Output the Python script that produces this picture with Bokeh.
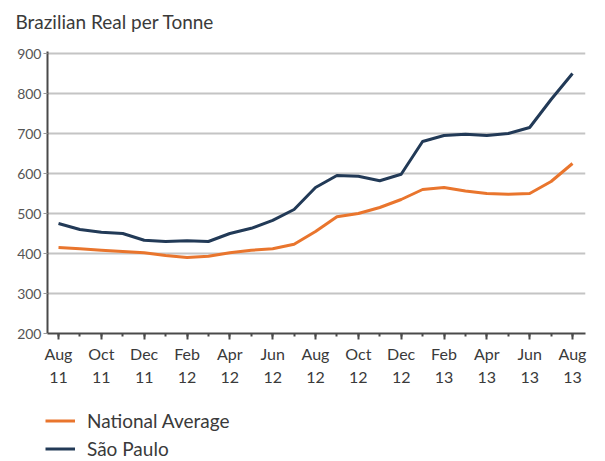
from bokeh.plotting import figure
from bokeh.layouts import column
from bokeh.models import (FixedTicker, LinearAxis, Range1d, Label, Legend, LegendItem)
from bokeh.embed import file_html
from bokeh.resources import INLINE

months = ["Aug 11", "Sep 11", "Oct 11", "Nov 11", "Dec 11", "Jan 12", "Feb 12", "Mar 12",
          "Apr 12", "May 12", "Jun 12", "Jul 12", "Aug 12", "Sep 12", "Oct 12", "Nov 12",
          "Dec 12", "Jan 13", "Feb 13", "Mar 13", "Apr 13", "May 13", "Jun 13", "Jul 13", "Aug 13"]
national_average = [415, 412, 408, 405, 402, 395, 390, 393, 402, 408, 412, 423, 455,
                    492, 500, 515, 535, 560, 565, 556, 550, 548, 550, 580, 625]
sao_paulo = [475, 460, 453, 450, 433, 430, 432, 430, 450, 463, 483, 510, 565,
             595, 593, 582, 598, 680, 695, 698, 695, 700, 715, 785, 850]
y_ticks = [200, 300, 400, 500, 600, 700, 800, 900]
series_names = ["National Average", "São Paulo"]
title_text = "Brazilian Real per Tonne"

FONT = "Lato"
ORANGE = "#E9752D"
NAVY = "#223A57"
TXT = "#3a3a3a"
W = 590

x = list(range(len(months)))


def bare(height):
    f = figure(width=W, height=height, output_backend="svg", toolbar_location=None,
               x_range=Range1d(0, 1), y_range=Range1d(0, 1), frame_align=False,
               min_border=0, x_axis_location=None, y_axis_location=None)
    f.outline_line_color = None
    f.grid.visible = False
    return f


# --- title strip ---
pt = bare(36)
pt.add_layout(Label(x=7, y=23, x_units="screen", y_units="screen", text=title_text,
                    text_font=FONT, text_font_size="19px", text_color=TXT,
                    text_baseline="alphabetic"))

# --- main chart ---
p = figure(width=W, height=354, output_backend="svg", toolbar_location=None,
           x_range=Range1d(-0.514, 24.607), y_range=Range1d(200, 905), frame_align=False,
           min_border_left=39, min_border_right=13, min_border_top=7, min_border_bottom=65,
           x_axis_location=None)
p.outline_line_color = None
p.xgrid.visible = False
p.ygrid.grid_line_color = "#c4c4c4"
p.ygrid.grid_line_width = 2
p.ygrid.ticker = FixedTicker(ticks=y_ticks)

yax = p.yaxis[0]
yax.ticker = FixedTicker(ticks=y_ticks)
yax.axis_line_color = "#4a4a4a"
yax.axis_line_width = 2
yax.major_tick_line_color = "#9a9a9a"
yax.major_tick_out = 4
yax.major_tick_in = 0
yax.minor_tick_line_color = None
yax.major_label_standoff = 2
yax.major_label_text_font = FONT
yax.major_label_text_font_size = "14px"
yax.major_label_text_color = "#555555"

major = [i for i in x if i % 2 == 0]
month_labels = {i: months[i].split()[0] for i in major}
year_labels = {i: months[i].split()[1] for i in major}

ax1 = LinearAxis(ticker=FixedTicker(ticks=major, minor_ticks=x))
ax1.major_label_overrides = month_labels
ax1.axis_line_color = "#4a4a4a"
ax1.axis_line_width = 2
ax1.major_tick_line_color = "#4a4a4a"
ax1.major_tick_line_width = 2
ax1.major_tick_out = 6
ax1.major_tick_in = 0
ax1.minor_tick_line_color = "#4a4a4a"
ax1.minor_tick_line_width = 2
ax1.minor_tick_out = 3
ax1.minor_tick_in = 0
ax1.major_label_standoff = 4
ax1.major_label_text_font = FONT
ax1.major_label_text_font_size = "16px"
ax1.major_label_text_color = TXT
p.add_layout(ax1, "below")

ax2 = LinearAxis(ticker=FixedTicker(ticks=major, minor_ticks=[]))
ax2.major_label_overrides = year_labels
ax2.axis_line_color = None
ax2.major_tick_line_color = None
ax2.minor_tick_line_color = None
ax2.major_tick_out = 0
ax2.major_label_standoff = 6
ax2.major_label_text_font = FONT
ax2.major_label_text_font_size = "16px"
ax2.major_label_text_color = TXT
p.add_layout(ax2, "below")

p.line(x, national_average, line_color=ORANGE, line_width=3, line_join="round")
p.line(x, sao_paulo, line_color=NAVY, line_width=3, line_join="round")

# --- legend strip (series drawn off-range; only the legend swatches show) ---
pl = bare(62)
g_nat = pl.line(x, national_average, line_color=ORANGE, line_width=3)
g_sp = pl.line(x, sao_paulo, line_color=NAVY, line_width=3)
legend = Legend(items=[LegendItem(label=series_names[0], renderers=[g_nat]),
                       LegendItem(label=series_names[1], renderers=[g_sp])],
                location=(37, 0), orientation="vertical",
                padding=0, margin=0, spacing=5, label_height=23, glyph_height=23,
                glyph_width=30, label_standoff=12,
                background_fill_alpha=0, border_line_color=None,
                label_text_font=FONT, label_text_font_size="19px", label_text_color=TXT)
pl.add_layout(legend, "center")

layout = column(pt, p, pl, spacing=0, margin=(8, 0, 0, 8))
open("out.html", "w").write(file_html(layout, INLINE))
